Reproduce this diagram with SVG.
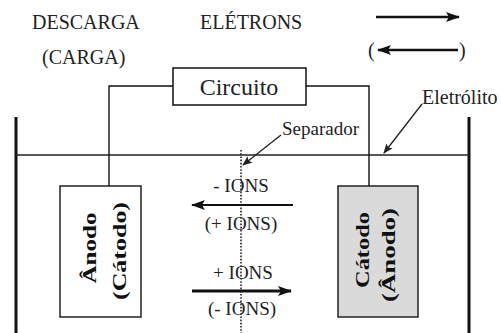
<svg xmlns="http://www.w3.org/2000/svg" width="501" height="333" viewBox="0 0 501 333">
<style>
text{font-family:"Liberation Serif","Times New Roman",serif;fill:#222}
.t20{font-size:20px}
.t19{font-size:19px}
.lbl{font-size:19px;font-weight:bold;fill:#111}
.w{fill:none;stroke:#111;stroke-width:1.4}
</style>
<defs>
<marker id="ah" viewBox="0 0 14 10" refX="13" refY="5" markerWidth="14" markerHeight="10" markerUnits="userSpaceOnUse" orient="auto"><path d="M0,0 L14,5 L0,10 L3,5 Z" fill="#111"/></marker>
<marker id="ahs" viewBox="0 0 10 8" refX="9" refY="4" markerWidth="10" markerHeight="8" markerUnits="userSpaceOnUse" orient="auto"><path d="M0,0 L10,4 L0,8 L2,4 Z" fill="#222"/></marker>
</defs>
<rect width="501" height="333" fill="#fff"/>
<g id="legend">
<text class="t20" x="32" y="29">DESCARGA</text>
<text class="t20" x="42" y="64">(CARGA)</text>
<text class="t20" x="200" y="29">ELÉTRONS</text>
<line x1="376" y1="17" x2="459" y2="17" stroke="#111" stroke-width="2.6" marker-end="url(#ah)"/>
<text class="t20" x="368" y="57">(</text>
<line x1="458" y1="50" x2="378" y2="50" stroke="#111" stroke-width="2.6" marker-end="url(#ah)"/>
<text class="t20" x="459" y="57">)</text>
</g>
<g id="tank">
<line x1="16" y1="117" x2="16" y2="333" stroke="#111" stroke-width="3"/>
<line x1="469" y1="117" x2="469" y2="333" stroke="#111" stroke-width="3"/>
</g>
<g id="electrolyte">
<line x1="16" y1="155" x2="469" y2="155" stroke="#222" stroke-width="1.6"/>
<text class="t20" x="422" y="104">Eletrólito</text>
</g>
<g id="separator">
<line x1="241" y1="150" x2="241" y2="333" stroke="#222" stroke-width="1.6" stroke-dasharray="1.6,1.6"/>
<text class="t19" x="282" y="135">Separador</text>
</g>
<g id="circuit">
<rect x="173" y="68" width="133" height="37" fill="#fff" stroke="#111" stroke-width="1.5"/>
<text x="239" y="95" text-anchor="middle" style="font-size:24px">Circuito</text>
</g>
<g id="anode">
<rect x="60" y="186" width="81" height="131" fill="#fff" stroke="#222" stroke-width="1.5"/>
<text class="lbl" transform="translate(96,248) rotate(-90)" text-anchor="middle" textLength="71" lengthAdjust="spacingAndGlyphs">Ânodo</text>
<text class="lbl" transform="translate(126,251) rotate(-90)" text-anchor="middle" textLength="98" lengthAdjust="spacingAndGlyphs">(Cátodo)</text>
</g>
<g id="cathode">
<rect x="338" y="186" width="80" height="131" fill="#dadada" stroke="#222" stroke-width="1.5"/>
<text class="lbl" transform="translate(369,250) rotate(-90)" text-anchor="middle" textLength="76" lengthAdjust="spacingAndGlyphs">Cátodo</text>
<text class="lbl" transform="translate(395,255) rotate(-90)" text-anchor="middle" textLength="94" lengthAdjust="spacingAndGlyphs">(Ânodo)</text>
</g>
<g id="ions">
<text class="t19" x="241" y="192" text-anchor="middle">- IONS</text>
<text class="t19" x="241" y="230" text-anchor="middle">(+ IONS)</text>
<text class="t19" x="243" y="279" text-anchor="middle">+ IONS</text>
<text class="t19" x="242" y="315" text-anchor="middle">(- IONS)</text>
</g>
<g id="connectors">
<path class="w" d="M173,86 H109 V186"/>
<path class="w" d="M306,86 H369 V186"/>
<line x1="293" y1="205" x2="192" y2="205" stroke="#111" stroke-width="1.8" marker-end="url(#ah)"/>
<line x1="192" y1="291" x2="291" y2="291" stroke="#111" stroke-width="3" marker-end="url(#ah)"/>
<line x1="422" y1="104" x2="384" y2="153" stroke="#222" stroke-width="1.3" marker-end="url(#ahs)"/>
<line x1="281" y1="135" x2="243" y2="165" stroke="#222" stroke-width="1.3" marker-end="url(#ahs)"/>
</g>
</svg>
